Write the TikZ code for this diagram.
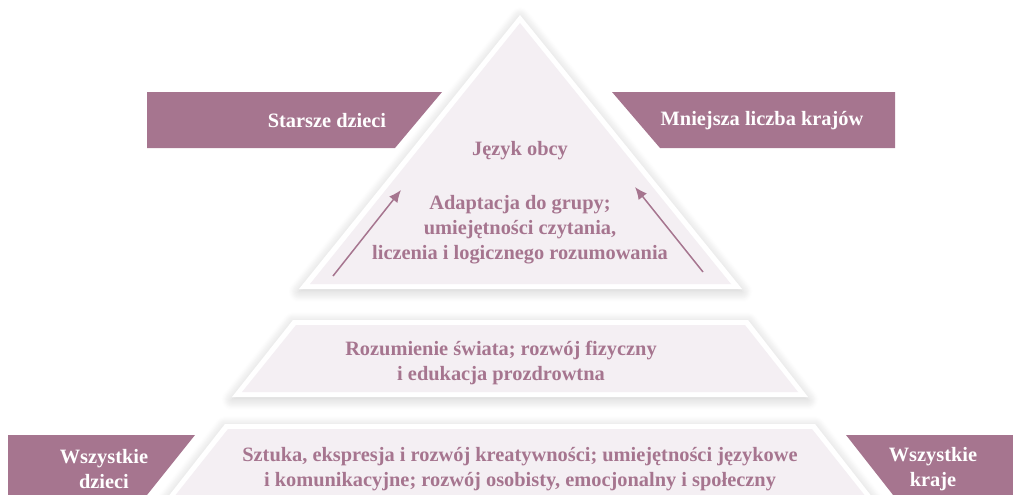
\documentclass[tikz,border=0pt]{standalone}
\usepackage{fontspec}
\setmainfont{Liberation Serif}
\usepackage{tikz}
\usetikzlibrary{arrows.meta,shadows.blur}
\definecolor{plum}{HTML}{A6758F}
\definecolor{blush}{HTML}{F4EFF3}
\tikzstyle{banner} = [fill=plum]
\tikzstyle{rim} = [fill=white, blur shadow={shadow xshift=0pt, shadow yshift=-1.5pt, shadow blur radius=6pt, shadow blur steps=12, shadow opacity=20}]
\tikzstyle{level} = [fill=blush]
\tikzstyle{tag} = [text=white, font=\bfseries\fontsize{11.6}{14.2}\selectfont, align=center]
\tikzstyle{body} = [text=plum, font=\bfseries\fontsize{11.6}{14.2}\selectfont, align=center]
\tikzset{
  line/.style ={draw=plum, line width=0.85pt, -{Latex[length=7pt,width=6pt]}, shorten >=0pt}
}

\begin{document}
\begin{tikzpicture}[x=0.02cm, y=-0.02cm]
	\useasboundingbox (0,0) rectangle (1013,494);
	\clip (0,0) rectangle (1013,494);
	% side banners
	\fill[banner] (147,92) -- (442,92) -- (395,148) -- (147,148) -- cycle;
	\fill[banner] (612,92) -- (895,92) -- (895,148) -- (660,148) -- cycle;
	\fill[banner] (8,435) -- (195,435) -- (143,500) -- (8,500) -- cycle;
	\fill[banner] (846,435) -- (1020,435) -- (1020,500) -- (897,500) -- cycle;
	% pyramid
	\fill[rim] (520,15) -- (742,289) -- (299,289) -- cycle;
	\fill[level] (520,23) -- (731,284) -- (310,284) -- cycle;
	\fill[rim] (293,320) -- (748,320) -- (808,397) -- (232,397) -- cycle;
	\fill[level] (296,325) -- (745,325) -- (798,392) -- (242,392) -- cycle;
	\fill[rim] (225,424) -- (815,424) -- (876,502) -- (164,502) -- cycle;
	\fill[level] (228,429) -- (812,429) -- (870,502) -- (170,502) -- cycle;
	% labels
	\node[tag] (older) at (327,121) {Starsze dzieci};
	\node[tag] (fewer) at (762,121) {Mniejsza liczba krajów};
	\node[tag] (allkids) at (104,469) {Wszystkie\\dzieci};
	\node[tag] (allland) at (933,469) {Wszystkie\\kraje};
	\node[body] (lang) at (520,151) {Język obcy};
	\node[body] (school) at (520,230) {Adaptacja do grupy;\\umiejętności czytania,\\liczenia i logicznego rozumowania};
	\node[body] (world) at (501,363) {Rozumienie świata; rozwój fizyczny\\i edukacja prozdrowtna};
	\node[body] (arts) at (520,469) {Sztuka, ekspresja i rozwój kreatywności; umiejętności językowe\\i komunikacyjne; rozwój osobisty, emocjonalny i społeczny};
	% arrows
	\coordinate (upl0) at (333,276);
	\coordinate (upl1) at (401,190);
	\coordinate (upr0) at (703,272);
	\coordinate (upr1) at (635,187);
	\draw[line] (upl0) -- (upl1);
	\draw[line] (upr0) -- (upr1);
\end{tikzpicture}
\end{document}
